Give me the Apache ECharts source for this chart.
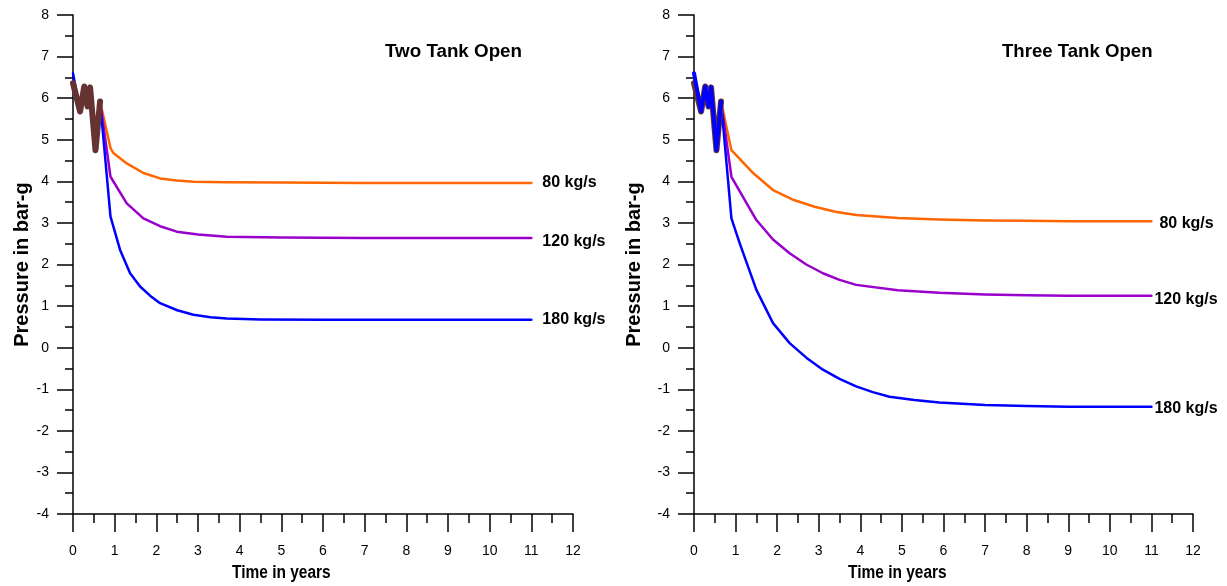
<!DOCTYPE html>
<html>
<head>
<meta charset="utf-8">
<script src="https://cdn.jsdelivr.net/npm/echarts@6/dist/echarts.min.js"></script>
<style>
  html, body { margin: 0; padding: 0; background: #fff; }
  #chart { width: 1227px; height: 586px; }
</style>
</head>
<body>
<div id="chart"></div>
<script>
// tick labels
var xTicks = [0, 12, 1];   // min, max, step (years)
var yTicks = [-4, 8, 1];   // min, max, step (bar-g)

// measured history, same in both cases
var histData = [[0, 6.36], [0.17, 5.68], [0.27, 6.28], [0.35, 5.8], [0.41, 6.26], [0.54, 4.75], [0.65, 5.92]];
var blueHistory = [[0, 6.6], [0.17, 5.68], [0.27, 6.28], [0.35, 5.8], [0.41, 6.26], [0.54, 4.75], [0.65, 5.92]];

// Two Tank Open
var two80 = [[0.65, 5.92], [0.9, 4.8], [0.97, 4.68], [1.29, 4.43], [1.69, 4.2], [2.09, 4.07], [2.49, 4.02], [2.89, 3.99], [3.69, 3.98], [5, 3.97], [7, 3.96], [9, 3.96], [11, 3.96]];
var two120 = [[0.65, 5.92], [0.9, 4.11], [1.29, 3.47], [1.69, 3.11], [2.09, 2.92], [2.49, 2.79], [3, 2.72], [3.69, 2.67], [5, 2.65], [7, 2.64], [9, 2.64], [11, 2.64]];
var two180 = blueHistory.concat([[0.9, 3.15], [1.13, 2.35], [1.37, 1.79], [1.61, 1.47], [1.85, 1.25], [2.09, 1.07], [2.5, 0.9], [2.89, 0.79], [3.3, 0.73], [3.69, 0.7], [4.5, 0.68], [6, 0.67], [8, 0.67], [11, 0.67]]);

// Three Tank Open
var three80 = [[0.65, 5.92], [0.9, 4.75], [1.4, 4.22], [1.9, 3.79], [2.4, 3.55], [2.9, 3.39], [3.4, 3.27], [3.9, 3.19], [4.9, 3.12], [5.9, 3.08], [7, 3.06], [8, 3.05], [9, 3.04], [11, 3.04]];
var three120 = [[0.65, 5.92], [0.9, 4.11], [1.5, 3.07], [1.9, 2.6], [2.3, 2.27], [2.7, 2.0], [3.1, 1.79], [3.5, 1.63], [3.9, 1.51], [4.9, 1.38], [5.9, 1.32], [7, 1.28], [8, 1.26], [9, 1.25], [11, 1.25]];
var three180 = [[0.65, 5.92], [0.9, 3.11], [1.1, 2.51], [1.5, 1.39], [1.9, 0.59], [2.3, 0.11], [2.7, -0.24], [3.1, -0.53], [3.5, -0.75], [3.9, -0.93], [4.3, -1.07], [4.7, -1.18], [5.3, -1.26], [5.9, -1.32], [7, -1.38], [8, -1.4], [9, -1.42], [11, -1.42]];

var FONT = 'Liberation Sans, Arial, sans-serif';

function xAxis(grid) {
  return {
    type: 'value', gridIndex: grid,
    min: xTicks[0], max: xTicks[1], interval: xTicks[2],
    axisLine: { onZero: false, lineStyle: { color: '#000', width: 1.5 } },
    axisTick: { length: 18, lineStyle: { color: '#000', width: 1.5 } },
    minorTick: { show: true, splitNumber: 2, length: 9, lineStyle: { color: '#000', width: 1.5 } },
    axisLabel: { color: '#000', fontSize: 14, fontFamily: FONT, margin: 30 },
    splitLine: { show: false }
  };
}

function yAxis(grid, gap) {
  return {
    type: 'value', gridIndex: grid,
    min: yTicks[0], max: yTicks[1], interval: yTicks[2],
    name: 'Pressure in bar-g', nameLocation: 'middle', nameRotate: 90, nameGap: gap,
    nameTextStyle: { color: '#000', fontSize: 20, fontWeight: 'bold', fontFamily: FONT },
    axisLine: { show: true, lineStyle: { color: '#000', width: 1.5 } },
    axisTick: { show: true, length: 16, lineStyle: { color: '#000', width: 1.5 } },
    minorTick: { show: true, splitNumber: 2, length: 8, lineStyle: { color: '#000', width: 1.5 } },
    axisLabel: { color: '#000', fontSize: 14, fontFamily: FONT, margin: 24 },
    splitLine: { show: false }
  };
}

function line(name, grid, data, color, width, z, labelOpt) {
  var s = {
    name: name, type: 'line', xAxisIndex: grid, yAxisIndex: grid,
    data: data, showSymbol: false, symbol: 'none', z: z,
    lineStyle: { color: color, width: width, cap: 'round', join: 'round' }
  };
  if (labelOpt) {
    s.endLabel = {
      show: true, formatter: '{a}', color: '#000', fontSize: 16, fontWeight: 'bold',
      fontFamily: FONT, distance: labelOpt[0], offset: [0, labelOpt[1]]
    };
  }
  return s;
}

function text(str, x, y, size, scaleX) {
  return {
    type: 'text', x: x, y: y, scaleX: scaleX || 1,
    style: { text: str, fill: '#000', font: 'bold ' + size + 'px ' + FONT, align: 'left', verticalAlign: 'middle' }
  };
}

var chart = echarts.init(document.getElementById('chart'));
chart.setOption({
  animation: false,
  grid: [
    { left: 73, top: 15, width: 500, height: 499 },
    { left: 694, top: 15, width: 499, height: 499 }
  ],
  xAxis: [xAxis(0), xAxis(1)],
  yAxis: [yAxis(0, 40), yAxis(1, 50)],
  graphic: [
    text('Two Tank Open', 385, 52, 18.8),
    text('Three Tank Open', 1002, 52, 18.6),
    text('Time in years', 232, 573, 18, 0.86),
    text('Time in years', 848, 573, 18, 0.86)
  ],
  series: [
    line('80 kg/s', 0, two80, '#FF6600', 2.5, 2, [11, 0]),
    line('120 kg/s', 0, two120, '#9900CC', 2.5, 3, [11, 4]),
    line('180 kg/s', 0, two180, '#0000FF', 2.5, 4, [11, 0]),
    line('history', 0, histData, '#663333', 6, 5),
    line('80 kg/s', 1, three80, '#FF6600', 2.5, 2, [8, 2]),
    line('120 kg/s', 1, three120, '#9900CC', 2.5, 3, [3, 4]),
    line('180 kg/s', 1, three180, '#0000FF', 2.5, 4, [3, 2]),
    line('history', 1, histData, '#663333', 6, 5),
    line('history blue', 1, blueHistory, '#0000FF', 4, 6)
  ]
});
</script>
</body>
</html>
